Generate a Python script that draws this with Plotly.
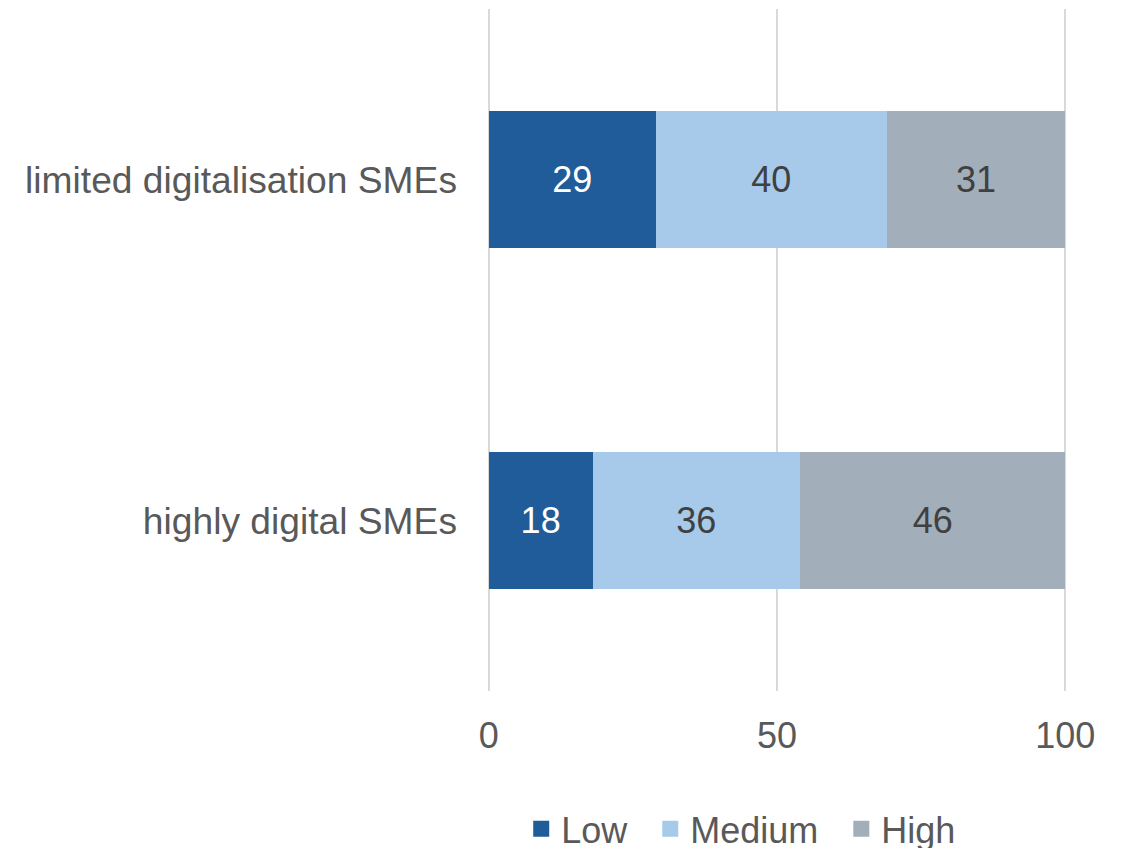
import plotly.graph_objects as go

categories = ["limited digitalisation SMEs", "highly digital SMEs"]
series_names = ["Low", "Medium", "High"]
low_values = [29, 18]
medium_values = [40, 36]
high_values = [31, 46]
x_ticks = [0, 50, 100]

colors = {"Low": "#1F5C99", "Medium": "#A7CAEB", "High": "#A2AFBA"}
text_colors = {"Low": "#FFFFFF", "Medium": "#404040", "High": "#404040"}
FONT = "Liberation Sans, Arial, sans-serif"

fig = go.Figure()
for name, vals in zip(series_names, [low_values, medium_values, high_values]):
    fig.add_trace(go.Bar(
        y=categories, x=vals, orientation="h", name=name,
        marker=dict(color=colors[name], line=dict(width=0)),
        text=[str(v) for v in vals], textposition="inside",
        insidetextanchor="middle",
        textfont=dict(family=FONT, size=36, color=text_colors[name]),
        showlegend=False, hoverinfo="skip",
    ))
    fig.add_trace(go.Scatter(
        x=[None], y=[None], mode="markers", name=name + "\u2002",
        marker=dict(symbol="square", size=19, color=colors[name]),
        showlegend=True,
    ))

# the page body adds an 8px offset; margins compensate for it
fig.update_layout(
    width=1125, height=848,
    margin=dict(l=479, r=66, t=1, b=165, pad=0, autoexpand=False),
    barmode="stack", bargap=0.6,
    plot_bgcolor="white", paper_bgcolor="white",
    font=dict(family=FONT, size=36, color="#595959"),
    xaxis=dict(range=[-0.3, 100.3], tickvals=x_ticks, showgrid=True,
               gridcolor="#D9D9D9", gridwidth=2, zeroline=False,
               showline=False, ticks="", ticklabelstandoff=20,
               automargin=False,
               tickfont=dict(size=36, color="#595959")),
    yaxis=dict(categoryorder="array", categoryarray=categories[::-1],
               showgrid=False, zeroline=False, showline=False, ticks="",
               ticklabelstandoff=29, automargin=False,
               tickfont=dict(size=37.2, color="#595959")),
    legend=dict(orientation="h", x=0.059, xanchor="left",
                yref="container", y=0.032, yanchor="middle",
                traceorder="normal",
                font=dict(size=36, color="#595959"),
                bgcolor="rgba(0,0,0,0)", itemsizing="trace"),
    uniformtext=dict(mode=False),
)

fig.write_html("out.html")
